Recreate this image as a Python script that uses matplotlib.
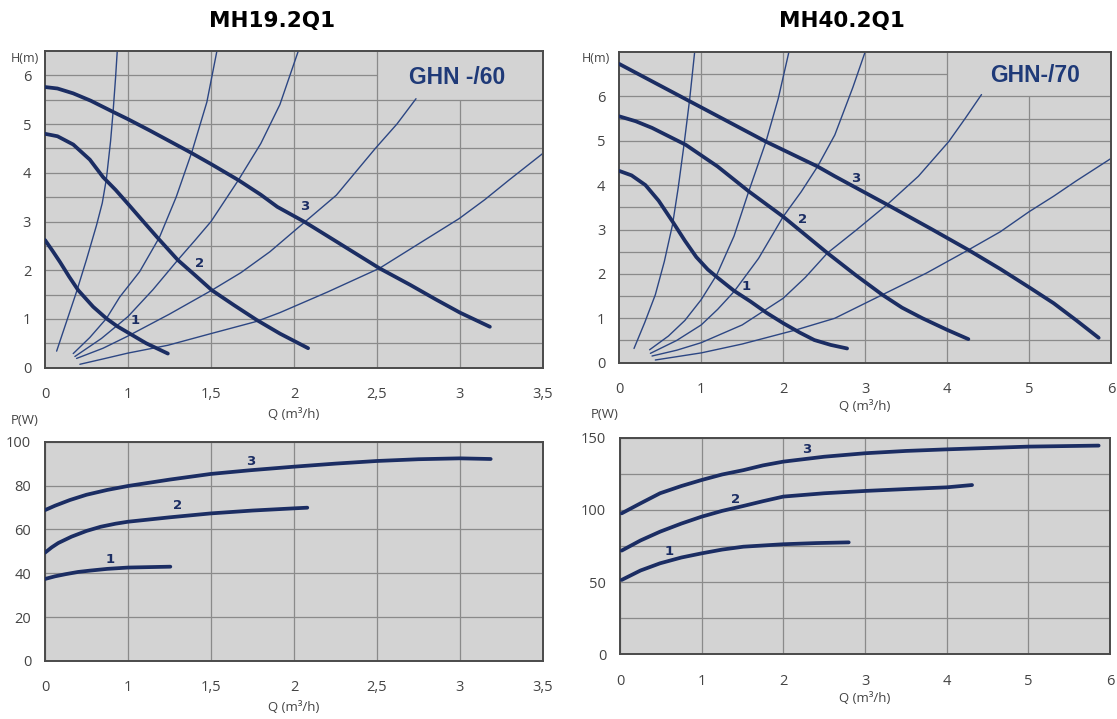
import numpy as np
import matplotlib
matplotlib.use('Agg')
import matplotlib.pyplot as plt

# ---- MH19.2Q1 (GHN -/60): head curves, Q in m3/h, H in m
q19_h1 = [0, 0.09, 0.18, 0.29, 0.40, 0.58, 0.74, 0.87, 1.0, 1.11, 1.24]
h19_1 = [2.62, 2.40, 2.17, 1.87, 1.59, 1.25, 1.01, 0.85, 0.72, 0.50, 0.29]
q19_h2 = [0, 0.15, 0.34, 0.54, 0.70, 0.85, 0.98, 1.10, 1.18, 1.30, 1.40, 1.505, 1.64, 1.775, 1.915, 2.085]
h19_2 = [4.80, 4.75, 4.58, 4.27, 3.91, 3.65, 3.40, 2.97, 2.66, 2.21, 1.91, 1.59, 1.28, 0.98, 0.70, 0.40]
q19_h3 = [0, 0.15, 0.34, 0.55, 0.82, 1.0, 1.13, 1.25, 1.37, 1.5, 1.665, 1.80, 1.90, 2.065,
          2.25, 2.515, 2.70, 2.855, 3.0, 3.18]
h19_3 = [5.76, 5.73, 5.63, 5.48, 5.25, 5.10, 4.87, 4.65, 4.43, 4.18, 3.85, 3.55, 3.30, 2.99,
         2.60, 2.04, 1.70, 1.40, 1.13, 0.84]

# system (resistance) curves
q19_s1 = [0.14, 0.26, 0.38, 0.50, 0.62, 0.69, 0.74, 0.79, 0.82, 0.85, 0.87]
h19_s1 = [0.34, 0.95, 1.56, 2.22, 2.92, 3.38, 3.88, 4.65, 5.25, 5.95, 6.49]
q19_s2 = [0.34, 0.54, 0.74, 0.90, 1.07, 1.19, 1.29, 1.385, 1.475, 1.535]
h19_s2 = [0.29, 0.62, 1.01, 1.45, 1.97, 2.68, 3.50, 4.43, 5.45, 6.49]
q19_s3 = [0.36, 0.68, 1.0, 1.15, 1.30, 1.40, 1.50, 1.665, 1.80, 1.915, 2.025]
h19_s3 = [0.23, 0.60, 1.05, 1.60, 2.21, 2.60, 3.0, 3.85, 4.6, 5.4, 6.49]
q19_s4 = [0.38, 0.70, 1.0, 1.25, 1.505, 1.68, 1.855, 2.065, 2.255, 2.49, 2.62, 2.735]
h19_s4 = [0.19, 0.40, 0.65, 1.1, 1.59, 1.95, 2.38, 2.99, 3.54, 4.50, 5.0, 5.52]
q19_s5 = [0.42, 0.70, 1.0, 1.24, 1.5, 1.775, 1.915, 2.2, 2.515, 2.75, 2.995, 3.15, 3.295, 3.5]
h19_s5 = [0.07, 0.18, 0.30, 0.46, 0.70, 0.95, 1.13, 1.55, 2.04, 2.54, 3.06, 3.45, 3.85, 4.4]

# power curves, P in W
q19_p1 = [0, 0.12, 0.25, 0.40, 0.54, 0.75, 1.0, 1.255]
p19_1 = [37.4, 38.6, 39.6, 40.6, 41.2, 42.0, 42.6, 43.0]
q19_p2 = [0, 0.08, 0.16, 0.32, 0.5, 0.67, 0.85, 1.0, 1.25, 1.5, 1.75, 2.0, 2.08]
p19_2 = [49.4, 51.8, 53.8, 56.7, 59.3, 61.2, 62.6, 63.5, 65.5, 67.3, 68.6, 69.6, 69.9]
q19_p3 = [0, 0.12, 0.30, 0.5, 0.75, 1.0, 1.25, 1.5, 1.74, 2.0, 2.25, 2.5, 2.75, 3.0, 3.185]
p19_3 = [68.8, 70.8, 73.4, 75.8, 78.0, 79.8, 82.7, 85.3, 87.0, 88.6, 90.0, 91.2, 92.0, 92.4, 92.1]

# ---- MH40.2Q1 (GHN-/70)
q40_h1 = [0, 0.15, 0.32, 0.48, 0.65, 0.80, 0.94, 1.08, 1.21, 1.4, 1.60, 1.8, 2.0, 2.2, 2.38, 2.58, 2.78]
h40_1 = [4.32, 4.22, 4.0, 3.65, 3.18, 2.75, 2.38, 2.10, 1.90, 1.62, 1.38, 1.12, 0.89, 0.68, 0.51, 0.40, 0.32]
q40_h2 = [0, 0.2, 0.40, 0.81, 1.2, 1.58, 2.0, 2.27, 2.54, 2.88, 3.21, 3.45, 3.70, 4.0, 4.26]
h40_2 = [5.55, 5.44, 5.29, 4.91, 4.42, 3.86, 3.29, 2.88, 2.47, 1.98, 1.53, 1.24, 1.0, 0.74, 0.53]
q40_h3 = [0, 0.45, 0.9, 1.35, 1.79, 2.42, 2.63, 3.28, 3.8, 4.26, 4.65, 5.0, 5.3, 5.58, 5.85]
h40_3 = [6.73, 6.29, 5.85, 5.41, 4.98, 4.42, 4.20, 3.55, 3.02, 2.54, 2.11, 1.7, 1.34, 0.95, 0.56]

q40_s1 = [0.18, 0.31, 0.44, 0.55, 0.65, 0.72, 0.79, 0.86, 0.92]
h40_s1 = [0.32, 0.9, 1.53, 2.28, 3.11, 3.95, 4.91, 5.95, 7.0]
q40_s2 = [0.37, 0.6, 0.8, 1.0, 1.19, 1.4, 1.58, 1.79, 1.94, 2.07]
h40_s2 = [0.29, 0.6, 0.95, 1.42, 1.98, 2.85, 3.86, 4.98, 5.95, 7.0]
q40_s3 = [0.38, 0.7, 1.0, 1.2, 1.4, 1.7, 2.0, 2.22, 2.42, 2.63, 2.85, 3.0]
h40_s3 = [0.21, 0.5, 0.85, 1.2, 1.6, 2.35, 3.29, 3.85, 4.42, 5.13, 6.2, 7.0]
q40_s4 = [0.40, 0.7, 1.0, 1.5, 2.0, 2.27, 2.54, 2.9, 3.28, 3.65, 4.02, 4.22, 4.42]
h40_s4 = [0.15, 0.28, 0.45, 0.85, 1.45, 1.92, 2.47, 3.0, 3.58, 4.2, 4.98, 5.5, 6.04]
q40_s5 = [0.44, 1.0, 1.5, 2.16, 2.63, 3.21, 3.75, 4.26, 4.65, 5.0, 5.3, 5.58, 6.0]
h40_s5 = [0.06, 0.22, 0.42, 0.74, 1.0, 1.53, 2.02, 2.54, 2.95, 3.4, 3.75, 4.1, 4.6]

q40_p1 = [0.02, 0.25, 0.49, 0.75, 1.0, 1.25, 1.51, 2.0, 2.4, 2.8]
p40_1 = [51.5, 58.0, 63.0, 67.0, 69.9, 72.5, 74.5, 76.2, 77.0, 77.5]
q40_p2 = [0.02, 0.25, 0.49, 0.75, 1.0, 1.25, 1.51, 1.75, 2.0, 2.5, 3.0, 3.5, 4.0, 4.31]
p40_2 = [71.8, 78.8, 84.9, 90.5, 95.3, 99.3, 102.7, 106.0, 109.2, 111.5, 113.1, 114.4, 115.6, 117.2]
q40_p3 = [0.02, 0.25, 0.49, 0.75, 1.0, 1.25, 1.51, 1.75, 2.0, 2.5, 3.0, 3.5, 4.0, 5.0, 5.86]
p40_3 = [97.6, 104.5, 111.5, 116.5, 120.7, 124.5, 127.5, 130.8, 133.4, 136.8, 139.2, 140.8, 141.9, 143.8, 144.5]

# curve number labels (Q, value)
lab19_h = [(1.04, 0.96), (1.43, 2.14), (2.065, 3.30)]
lab40_h = [(1.55, 1.71), (2.24, 3.22), (2.88, 4.16)]
lab19_p = [(0.78, 46.4), (1.30, 70.7), (1.74, 90.9)]
lab40_p = [(0.60, 71.1), (1.42, 107.5), (2.29, 141.5)]

q19_ticks = [0, 1, 1.5, 2, 2.5, 3, 3.5]
q19_ticklabels = ['0', '1', '1,5', '2', '2,5', '3', '3,5']
q40_ticks = [0, 1, 2, 3, 4, 5, 6]

BG = '#d3d3d3'
GRID = '#8a8a8a'
THICK = '#1b2d63'
THIN = '#2c4683'
TXT = '#444444'
TICKFONT = 'Open Sans'
LW = 2.7


# the 60-model chart has 0..1 squeezed into the same width as 1..1.5
def q_fwd(q):
    q = np.asarray(q, dtype=float)
    return np.where(q <= 1, q, 2 * q - 1)


def q_inv(p):
    p = np.asarray(p, dtype=float)
    return np.where(p <= 1, p, (p + 1) / 2)


def base_axes(ax, xmax, ymax, xticks, yticks):
    ax.set_facecolor(BG)
    ax.set_xlim(0, xmax)
    ax.set_ylim(0, ymax)
    ax.set_xticks(xticks)
    ax.set_yticks(yticks)
    for s in ax.spines.values():
        s.set_color('#4a4a4a')
        s.set_linewidth(1.4)
    ax.tick_params(length=0, labelsize=10.5, labelcolor=TXT)
    ax.tick_params(axis='x', pad=14)
    ax.tick_params(axis='y', pad=10)
    for lab in ax.get_xticklabels() + ax.get_yticklabels():
        lab.set_family(TICKFONT)


def curves(ax, thin_list, thick_list, labels):
    for q, h in thin_list:
        ax.plot(q, h, color=THIN, lw=1.0, zorder=2, solid_capstyle='round', solid_joinstyle='round')
    for q, h in thick_list:
        ax.plot(q, h, color=THICK, lw=LW, zorder=3, solid_capstyle='round', solid_joinstyle='round')
    for i, (q, h) in enumerate(labels):
        ax.text(q, h, str(i + 1), color=THICK, fontsize=9.5, fontweight='bold',
                ha='center', va='center', zorder=4)


fig = plt.figure(figsize=(11.17, 7.19), dpi=100)

# ---------------- top-left: head MH19
ax = fig.add_axes([0.0403, 0.4886, 0.4458, 0.4405])
ax.set_xscale('function', functions=(q_fwd, q_inv))
base_axes(ax, 3.5, 6.5, q19_ticks, range(0, 7))
ax.set_xticklabels(q19_ticklabels)
for y in np.arange(0.5, 6.5, 0.5):
    ax.hlines(y, 0, 2.5 if y == 6 else 3.5, color=GRID, lw=0.9, zorder=1)
for x in q19_ticks[1:-1]:
    ax.vlines(x, 0, 5.5 if x == 3 else 6.5, color=GRID, lw=0.9, zorder=1)
curves(ax,
       [(q19_s1, h19_s1), (q19_s2, h19_s2), (q19_s3, h19_s3), (q19_s4, h19_s4), (q19_s5, h19_s5)],
       [(q19_h1, h19_1), (q19_h2, h19_2), (q19_h3, h19_3)], lab19_h)
ax.text(0.827, 0.916, 'GHN -/60', transform=ax.transAxes, color='#1f3a78', fontsize=16.5,
        fontweight='bold', family='Liberation Sans', ha='center', va='center')
ax.set_xlabel('Q (m³/h)', fontsize=9.5, color=TXT, family=TICKFONT, labelpad=4)

# ---------------- top-right: head MH40
ax = fig.add_axes([0.5544, 0.4956, 0.4402, 0.4321])
base_axes(ax, 6, 7, q40_ticks, range(0, 7))
for y in np.arange(0.5, 7, 0.5):
    ax.hlines(y, 0, 4 if y == 6.5 else 6, color=GRID, lw=0.9, zorder=1)
for x in q40_ticks[1:-1]:
    ax.vlines(x, 0, 6 if x == 5 else 7, color=GRID, lw=0.9, zorder=1)
curves(ax,
       [(q40_s1, h40_s1), (q40_s2, h40_s2), (q40_s3, h40_s3), (q40_s4, h40_s4), (q40_s5, h40_s5)],
       [(q40_h1, h40_1), (q40_h2, h40_2), (q40_h3, h40_3)], lab40_h)
ax.text(0.845, 0.924, 'GHN-/70', transform=ax.transAxes, color='#1f3a78', fontsize=16.5,
        fontweight='bold', family='Liberation Sans', ha='center', va='center')
ax.set_xlabel('Q (m³/h)', fontsize=9.5, color=TXT, family=TICKFONT, labelpad=2)

# ---------------- bottom-left: power MH19
ax = fig.add_axes([0.0403, 0.0807, 0.4458, 0.3050])
ax.set_xscale('function', functions=(q_fwd, q_inv))
base_axes(ax, 3.5, 100, q19_ticks, range(0, 101, 20))
ax.set_xticklabels(q19_ticklabels)
ax.grid(True, color=GRID, lw=0.9, zorder=1)
ax.set_axisbelow(True)
curves(ax, [], [(q19_p1, p19_1), (q19_p2, p19_2), (q19_p3, p19_3)], lab19_p)
ax.set_xlabel('Q (m³/h)', fontsize=9.5, color=TXT, family=TICKFONT, labelpad=4)

# ---------------- bottom-right: power MH40
ax = fig.add_axes([0.5551, 0.0900, 0.4387, 0.3013])
base_axes(ax, 6, 150, q40_ticks, range(0, 151, 50))
ax.set_yticks(range(25, 150, 50), minor=True)
ax.tick_params(which='minor', length=0)
ax.grid(True, which='both', color=GRID, lw=0.9, zorder=1)
ax.set_axisbelow(True)
curves(ax, [], [(q40_p1, p40_1), (q40_p2, p40_2), (q40_p3, p40_3)], lab40_p)
ax.set_xlabel('Q (m³/h)', fontsize=9.5, color=TXT, family=TICKFONT, labelpad=2)

# axis name labels and titles
fig.text(25 / 1117, 1 - 58 / 719, 'H(m)', fontsize=9, color=TXT, family=TICKFONT, ha='center', va='center')
fig.text(596 / 1117, 1 - 58 / 719, 'H(m)', fontsize=9, color=TXT, family=TICKFONT, ha='center', va='center')
fig.text(25 / 1117, 1 - 420 / 719, 'P(W)', fontsize=9.5, color=TXT, family=TICKFONT, ha='center', va='center')
fig.text(605 / 1117, 1 - 415 / 719, 'P(W)', fontsize=9.5, color=TXT, family=TICKFONT, ha='center', va='center')
fig.text(272 / 1117, 1 - 21 / 719, 'MH19.2Q1', fontsize=15.5, fontweight='bold', ha='center', va='center')
fig.text(842 / 1117, 1 - 21 / 719, 'MH40.2Q1', fontsize=15.5, fontweight='bold', ha='center', va='center')

plt.savefig('out.png', dpi=100)
